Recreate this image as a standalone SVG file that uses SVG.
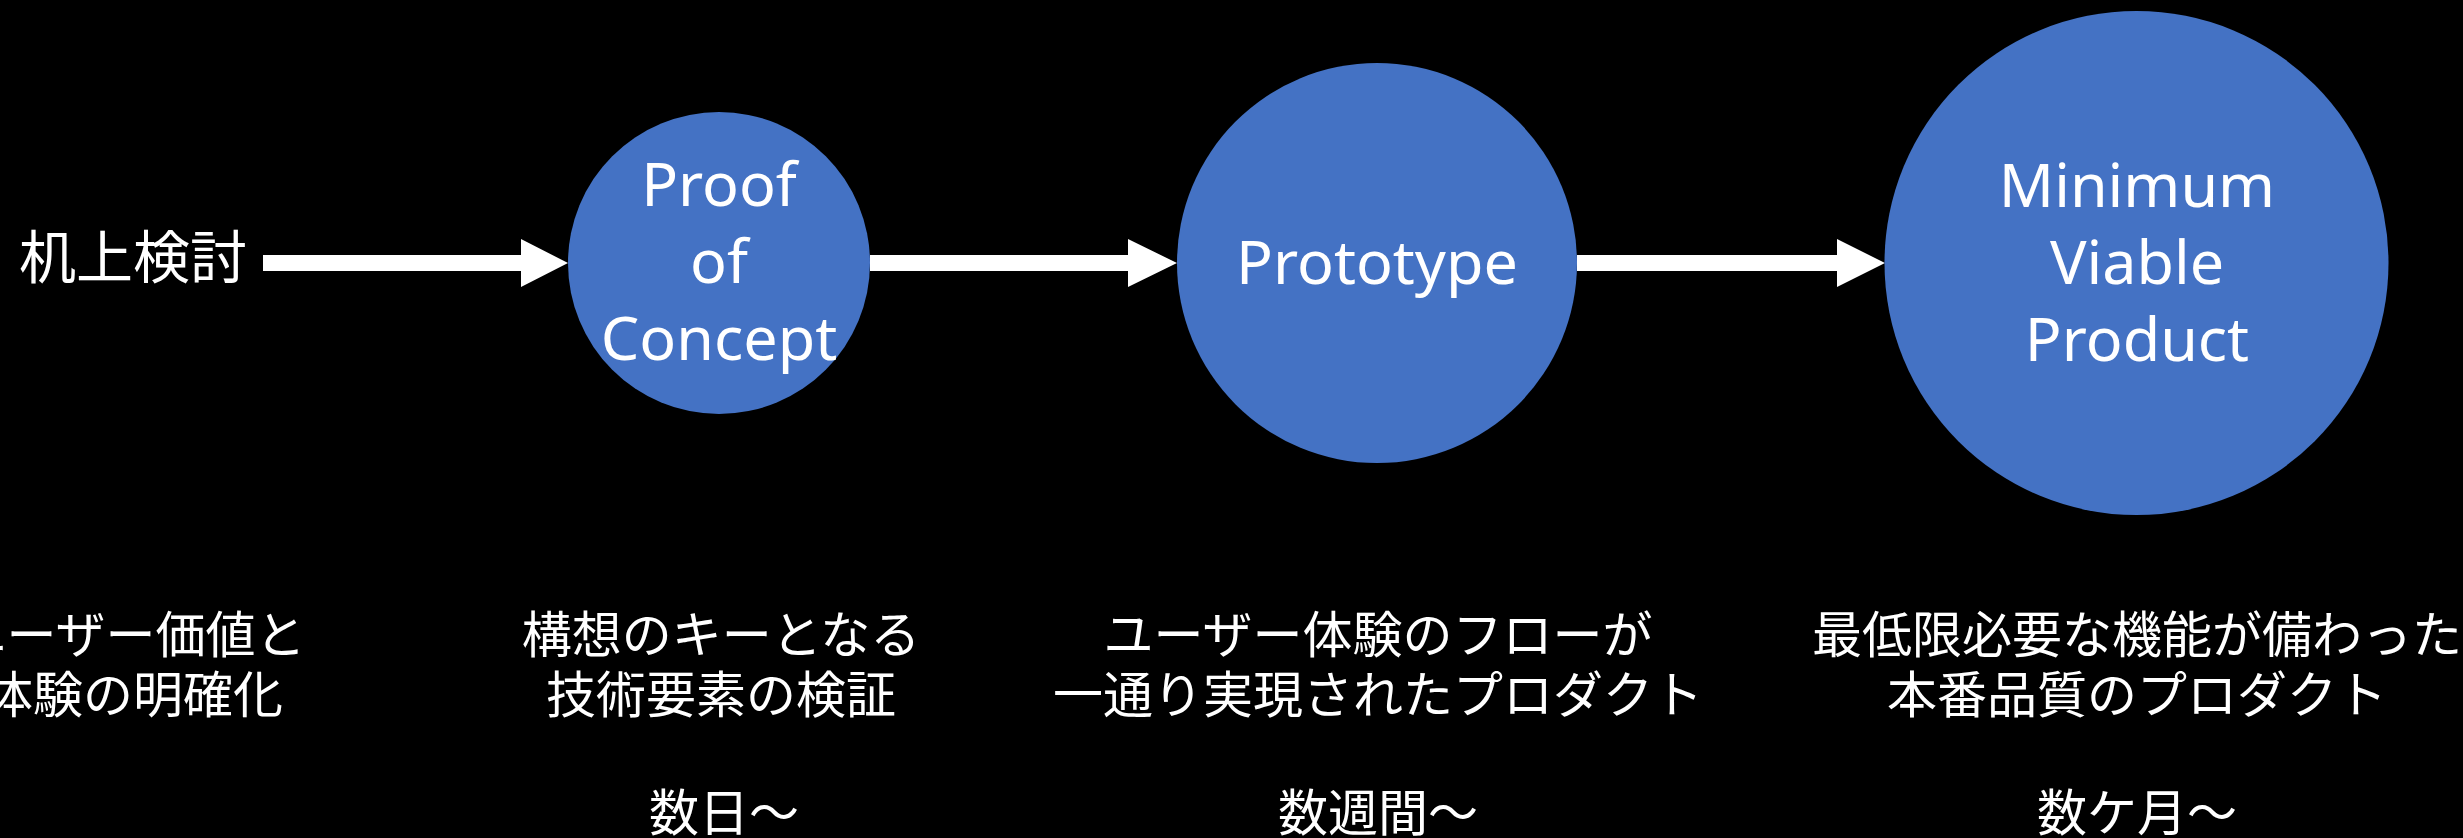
<svg xmlns="http://www.w3.org/2000/svg" width="2463" height="838" viewBox="0 0 2463 838">
  <style>
    .bg { fill: #000000; }
    .stage { fill: #4472C4; }
    .en { font-family: "Noto Sans", "Open Sans", sans-serif; font-size: 61px; fill: #FFFFFF; text-anchor: middle; }
    .jp { font-family: "Noto Sans CJK JP", "Noto Sans", sans-serif; font-size: 50px; fill: #FFFFFF; text-anchor: middle; }
    .jp-lg { font-size: 57px; }
    .arrow { fill: #FFFFFF; }
  </style>

  <rect class="bg" x="0" y="0" width="2463" height="838"/>

  <!-- connectors: block arrows between stages -->
  <g id="connectors">
    <polygon class="arrow" points="263,255 521,255 521,239 568,263 521,287 521,271 263,271"/>
    <polygon class="arrow" points="870,255 1128,255 1128,239 1177,263 1128,287 1128,271 870,271"/>
    <polygon class="arrow" points="1577,255 1837,255 1837,239 1885,263 1837,287 1837,271 1577,271"/>
  </g>

  <!-- starting point -->
  <g id="desk-study">
    <text class="jp jp-lg" x="133" y="278">机上検討</text>
    <text class="jp" x="131" y="653">ユーザー価値と</text>
    <text class="jp" x="133" y="713">体験の明確化</text>
  </g>

  <!-- stage 1 -->
  <g id="poc">
    <circle class="stage" cx="719" cy="263" r="151"/>
    <text class="en" x="719" y="206">Proof</text>
    <text class="en" x="719" y="283">of</text>
    <text class="en" x="719" y="360">Concept</text>
    <text class="jp" x="721" y="653">構想のキーとなる</text>
    <text class="jp" x="721" y="713">技術要素の検証</text>
    <text class="jp" x="724" y="831">数日～</text>
  </g>

  <!-- stage 2 -->
  <g id="prototype">
    <circle class="stage" cx="1377" cy="263" r="200"/>
    <text class="en" x="1377" y="284">Prototype</text>
    <text class="jp" x="1378" y="653">ユーザー体験のフローが</text>
    <text class="jp" x="1378" y="713">一通り実現されたプロダクト</text>
    <text class="jp" x="1378" y="831">数週間～</text>
  </g>

  <!-- stage 3 -->
  <g id="mvp">
    <circle class="stage" cx="2136.5" cy="263" r="252"/>
    <text class="en" x="2137" y="207">Minimum</text>
    <text class="en" x="2137" y="284">Viable</text>
    <text class="en" x="2137" y="361">Product</text>
    <text class="jp" x="2137" y="653">最低限必要な機能が備わった</text>
    <text class="jp" x="2137" y="713">本番品質のプロダクト</text>
    <text class="jp" x="2137" y="831">数ケ月～</text>
  </g>
</svg>
